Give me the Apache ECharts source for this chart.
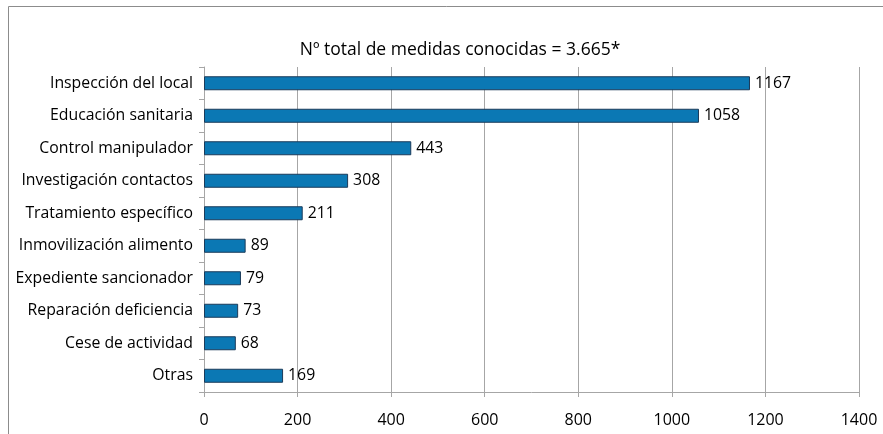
<!DOCTYPE html>
<html><head><meta charset="utf-8">
<script src="https://cdn.jsdelivr.net/npm/echarts@6/dist/echarts.min.js"></script>
<style>html,body{margin:0;padding:0;background:#fff}#c{width:883px;height:434px}</style>
</head><body><div id="c"></div>
<script>
const categories = ["Inspección del local","Educación sanitaria","Control manipulador","Investigación contactos","Tratamiento específico","Inmovilización alimento","Expediente sancionador","Reparación deficiencia","Cese de actividad","Otras"];
const values = [1167,1058,443,308,211,89,79,73,68,169];
const titleText = "Nº total de medidas conocidas = 3.665*";
const xTicks = [0,200,400,600,800,1000,1200,1400];

const chart = echarts.init(document.getElementById('c'), null, {renderer:'canvas'});
const font = "'Open Sans', 'Noto Sans', sans-serif";
chart.setOption({
  animation:false,
  title:{text:titleText, left:455, top:36, textAlign:'center',
    textStyle:{fontFamily:font, fontSize:17.5, fontWeight:'normal', color:'#000'}},
  graphic:[{type:'rect', shape:{x:8.5,y:6.5,width:1000,height:1000},
    style:{fill:'none', stroke:'#8c8c8c', lineWidth:1}}],
  grid:{left:204, right:24, top:67, bottom:42, containLabel:false},
  xAxis:{type:'value', min:0, max:1400, interval:200,
    axisLine:{show:true, lineStyle:{color:'#a6a6a6'}},
    axisTick:{show:true, length:5, lineStyle:{color:'#a6a6a6'}},
    splitLine:{show:true, lineStyle:{color:'#a6a6a6'}},
    axisLabel:{fontFamily:font, fontSize:16, color:'#000', margin:20,
      formatter:v => String(v)}},
  yAxis:{type:'category', data:categories, inverse:true,
    axisLine:{show:true, lineStyle:{color:'#a6a6a6'}},
    axisTick:{show:true, length:5, lineStyle:{color:'#a6a6a6'}},
    axisLabel:{fontFamily:font, fontSize:15.8, color:'#000', margin:11}},
  series:[{type:'bar', data:values, barWidth:14,
    itemStyle:{color:'#0b78b4', borderColor:'#1b3b5a', borderWidth:1},
    label:{show:true, position:'right', distance:5, fontFamily:font, fontSize:15.8, color:'#000'}}]
});
</script></body></html>
